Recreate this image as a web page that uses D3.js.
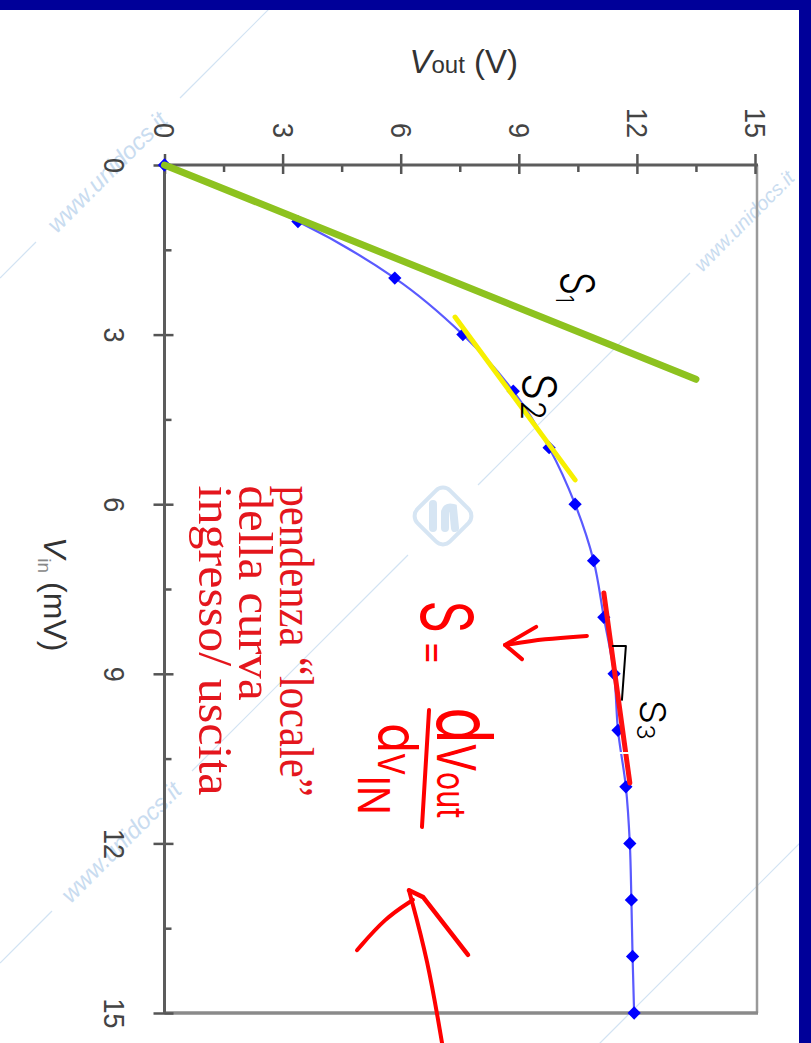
<!DOCTYPE html>
<html><head><meta charset="utf-8">
<script src="https://cdn.jsdelivr.net/npm/d3@7"></script>
<style>html,body{margin:0;padding:0;background:#fff;}svg{display:block;}</style>
</head><body>
<script>
// ---- data (Vin in mV, Vout in V) ----
const vin  = [0, 1, 2, 3, 4, 5, 6, 7, 8, 9, 10, 11, 12, 13, 14, 15];
const vout = [0, 3.39, 5.85, 7.58, 8.86, 9.77, 10.43, 10.90, 11.16, 11.42, 11.52, 11.72, 11.82, 11.86, 11.89, 11.93];
const voutTicks = [0, 3, 6, 9, 12, 15];
const vinTicks  = [0, 3, 6, 9, 12, 15];
const minorTicks = [1.5, 4.5, 7.5, 10.5, 13.5];
// tangent segments: [Vin, Vout] endpoints
const s1Vin = [0, 3.79],    s1Vout = [0, 13.5];
const s2Vin = [2.69, 5.57], s2Vout = [7.38, 10.43];
const s3Vin = [7.57, 10.93], s3Vout = [11.16, 11.82];
const noteLines = ["pendenza \u201Clocale\u201D", "della curva", "ingresso/ uscita"];

// ---- layout ----
const W = 811, H = 1043;
const svg = d3.select("body").append("svg").attr("width", W).attr("height", H);
const x = d3.scaleLinear().domain([0, 15]).range([164.5, 755]);   // Vout -> horizontal
const y = d3.scaleLinear().domain([0, 15]).range([165, 1013]);    // Vin  -> vertical
const P = (vo, vi) => [x(vo), y(vi)];

svg.append("rect").attr("width", W).attr("height", H).attr("fill", "#fff");

// ---- watermark (decoration) ----
const wm = svg.append("g").attr("stroke", "#d2e3f3").attr("stroke-width", 1.2).attr("fill", "none");
[[[0,278],[36,242]], [[180,98],[284,-6]], [[0,963],[52,911]], [[192,771],[408,555]],
 [[478,485],[690,273]], [[596,1047],[811,832]]].forEach(s =>
  wm.append("line").attr("x1", s[0][0]).attr("y1", s[0][1]).attr("x2", s[1][0]).attr("y2", s[1][1]));
const wmText = svg.append("g").attr("fill", "#c9dcf0").attr("font-family", "Liberation Sans, Arial, sans-serif")
  .attr("font-style", "italic").attr("font-size", 24);
[[107,172,"middle",24], [121,842,"middle",24], [744,221,"middle",20]].forEach(t =>
  wmText.append("text").attr("transform", `translate(${t[0]},${t[1]}) rotate(-45)`)
    .attr("text-anchor", t[2]).attr("font-size", t[3]).attr("dy", "0.35em").text("www.unidocs.it"));
const logo = svg.append("g").attr("transform", "translate(443,516) rotate(45)");
logo.append("rect").attr("x", -23).attr("y", -23).attr("width", 46).attr("height", 46).attr("rx", 10)
  .attr("fill", "#fff").attr("stroke", "#d6e5f3").attr("stroke-width", 4);
logo.append("path").attr("d", "M-10,-12 L-10,12 M2,-4 L2,12 M2,-2 Q2,-10 10,-8 L12,12")
  .attr("fill", "none").attr("stroke", "#d6e5f3").attr("stroke-width", 8).attr("stroke-linecap", "round")
  .attr("transform", "rotate(-45)");

// ---- frame ----
svg.append("line").attr("x1", x(15)+2).attr("x2", x(15)+2).attr("y1", y(0)).attr("y2", y(15))
  .attr("stroke", "#9a9a9a").attr("stroke-width", 2.5);
svg.append("line").attr("x1", x(0)).attr("x2", x(15)+3).attr("y1", y(15)).attr("y2", y(15))
  .attr("stroke", "#8a8a8a").attr("stroke-width", 3.5);

// ---- top axis (Vout) ----
const tickFont = "Liberation Sans, Arial, sans-serif";
const gx = svg.append("g").attr("transform", `translate(0,${y(0)})`)
  .call(d3.axisTop(x).tickValues(voutTicks).tickSize(11).tickFormat(d3.format("d")));
gx.select(".domain").remove();
gx.selectAll(".tick line").attr("y1", 9).attr("y2", -11).attr("stroke", "#555").attr("stroke-width", 2.5);
gx.selectAll(".tick text").attr("y", 0).attr("dy", "0.35em")
  .attr("transform", "translate(0,-27) rotate(90) scale(1,1.12)").attr("text-anchor", "end")
  .attr("font-size", 27).attr("font-family", tickFont).attr("fill", "#444");
const gxm = svg.append("g").attr("transform", `translate(0,${y(0)})`)
  .call(d3.axisTop(x).tickValues(minorTicks).tickSize(-7).tickFormat(""));
gxm.select(".domain").remove();
gxm.selectAll(".tick line").attr("stroke", "#555").attr("stroke-width", 2.5);

// ---- left axis (Vin) ----
const gy = svg.append("g").attr("transform", `translate(${x(0)},0)`)
  .call(d3.axisLeft(y).tickValues(vinTicks).tickSize(11).tickFormat(d3.format("d")));
gy.select(".domain").remove();
gy.selectAll(".tick line").attr("x1", 9).attr("x2", -11).attr("stroke", "#555").attr("stroke-width", 2.5);
gy.selectAll(".tick text").attr("x", 0).attr("y", 0).attr("dy", 0)
  .attr("transform", "translate(-61,0) rotate(90) scale(1,1.12)").attr("text-anchor", "middle")
  .attr("font-size", 27).attr("font-family", tickFont).attr("fill", "#444");
const gym = svg.append("g").attr("transform", `translate(${x(0)},0)`)
  .call(d3.axisLeft(y).tickValues(minorTicks).tickSize(-7).tickFormat(""));
gym.select(".domain").remove();
gym.selectAll(".tick line").attr("stroke", "#555").attr("stroke-width", 2.5);

svg.append("line").attr("x1", x(0)).attr("x2", x(15)+3).attr("y1", y(0)).attr("y2", y(0))
  .attr("stroke", "#5c5c5c").attr("stroke-width", 3);
svg.append("line").attr("x1", x(0)).attr("x2", x(0)).attr("y1", y(0)).attr("y2", y(15))
  .attr("stroke", "#5c5c5c").attr("stroke-width", 3);

// ---- axis titles ----
const tVout = svg.append("text").attr("x", x(0) + 245).attr("y", y(0) - 92)
  .attr("font-family", tickFont).attr("fill", "#333");
tVout.append("tspan").attr("font-size", 33).attr("font-style", "italic").text("V");
tVout.append("tspan").attr("font-size", 24).text("out");
tVout.append("tspan").attr("font-size", 33).text(" (V)");
const tVin = svg.append("text").attr("transform", `translate(${x(0) - 121},${y(0) + 372}) rotate(90)`)
  .attr("font-family", tickFont).attr("fill", "#333");
tVin.append("tspan").attr("font-size", 32).attr("font-style", "italic").text("V");
tVin.append("tspan").attr("font-size", 19).attr("dy", 6).attr("fill", "#888").text("in");
tVin.append("tspan").attr("font-size", 32).attr("dy", -6).text(" (mV)");

// ---- red explanatory text ----
const noteBase = [2.93, 1.89, 0.88], noteLen = [311, 215, 310];
noteLines.forEach((t, i) => {
  svg.append("text").attr("transform", `translate(${x(noteBase[i])},${y(5.67)}) rotate(90)`)
    .attr("font-family", "Liberation Serif, Times New Roman, serif").attr("font-size", 48)
    .attr("fill", "#e4161d").attr("textLength", noteLen[i]).attr("lengthAdjust", "spacingAndGlyphs").text(t);
});

// ---- data curve and markers ----
const pts = vin.map((v, i) => ({vin: v, vout: vout[i]}));
svg.append("path").datum(pts)
  .attr("d", d3.line().x(d => x(d.vout)).y(d => y(d.vin)).curve(d3.curveMonotoneY))
  .attr("fill", "none").attr("stroke", "#5a5aff").attr("stroke-width", 2.2);
svg.selectAll(".pt").data(pts).enter().append("path")
  .attr("d", d3.symbol(d3.symbolSquare, 88))
  .attr("transform", d => `translate(${x(d.vout)},${y(d.vin)}) rotate(45)`)
  .attr("fill", "#0000ff");

// ---- tangent lines ----
const seg = (vi, vo, color, w) => svg.append("line")
  .attr("x1", x(vo[0])).attr("y1", y(vi[0])).attr("x2", x(vo[1])).attr("y2", y(vi[1]))
  .attr("stroke", color).attr("stroke-width", w).attr("stroke-linecap", "round");
seg(s1Vin, s1Vout, "#8dc21f", 7);
seg(s2Vin, s2Vout, "#f7f000", 5);
seg(s3Vin, s3Vout, "#ff1010", 5);

// ---- handwritten annotations (data coordinates) ----
const hand = "Inter, DejaVu Sans, sans-serif";
const poly = (arr, color, w, curve) => svg.append("path")
  .attr("d", d3.line().x(d => x(d[0])).y(d => y(d[1])).curve(curve || d3.curveLinear)(arr))
  .attr("fill", "none").attr("stroke", color).attr("stroke-width", w)
  .attr("stroke-linecap", "round").attr("stroke-linejoin", "round");
// white nick across red tangent
poly([[11.57, 10.40], [11.93, 10.40]], "#fff", 2);
// black bracket near S3
poly([[11.39, 8.51], [11.72, 8.51], [11.62, 9.46]], "#000", 2);
// short red arrow
poly([[10.73, 8.33], [9.66, 8.38], [8.65, 8.49]], "#ff0000", 4, d3.curveBasis);
poly([[9.44, 8.17], [8.65, 8.49], [9.08, 8.74]], "#ff0000", 4);
// fraction bar
poly([[6.72, 9.64], [6.54, 11.71]], "#ff0000", 4);
// big red arrow
poly([[7.05, 15.53], [6.69, 14.06], [6.21, 12.83]], "#ff0000", 4, d3.curveBasis);
poly([[4.89, 13.89], [5.60, 13.32], [6.31, 13.00]], "#ff0000", 4, d3.curveBasis);
poly([[6.21, 12.83], [6.57, 12.95], [7.71, 13.97]], "#ff0000", 4.5);

const handText = (vo, vi, parts, len, color, weight) => {
  const [px, py] = P(vo, vi);
  const t = svg.append("text").attr("transform", `translate(${px},${py}) rotate(90)`)
    .attr("font-family", hand).attr("font-weight", weight).attr("fill", color)
    .attr("textLength", len).attr("lengthAdjust", "spacingAndGlyphs");
  parts.forEach(p => t.append("tspan").attr("font-size", p[1]).attr("dy", p[2]).text(p[0]));
  return t;
};
handText(10.07, 1.89, [["S", 46, 0], ["1", 24, 5]], 31, "#000", 300);
handText(9.11, 3.68, [["S", 46, 0], ["2", 34, 2]], 47, "#000", 300);
handText(12.08, 9.46, [["S", 36, 0], ["3", 24, 3]], 40, "#000", 300);
handText(6.52, 7.70, [["S", 72, 0]], 33, "#ff0000", 400);
{
  const [px, py] = P(6.87, 8.63);
  svg.append("text").attr("transform", `translate(${px},${py}) rotate(90)`).attr("text-anchor", "middle")
    .attr("dy", "0.36em").attr("font-family", hand).attr("font-size", 38).attr("fill", "#ff0000").text("=");
}
handText(6.92, 9.59, [["d", 78, 0], ["V", 54, 0], ["out", 40, 0]], 111, "#ff0000", 400);
handText(5.42, 9.87, [["d", 56, 0], ["V", 37, 0], ["IN", 44, 20]], 92, "#ff0000", 400);

// ---- slide border ----
svg.append("rect").attr("x", 0).attr("y", 0).attr("width", W).attr("height", 10).attr("fill", "#000099");
svg.append("rect").attr("x", 799).attr("y", 0).attr("width", 12).attr("height", H).attr("fill", "#000099");
</script>
</body></html>
